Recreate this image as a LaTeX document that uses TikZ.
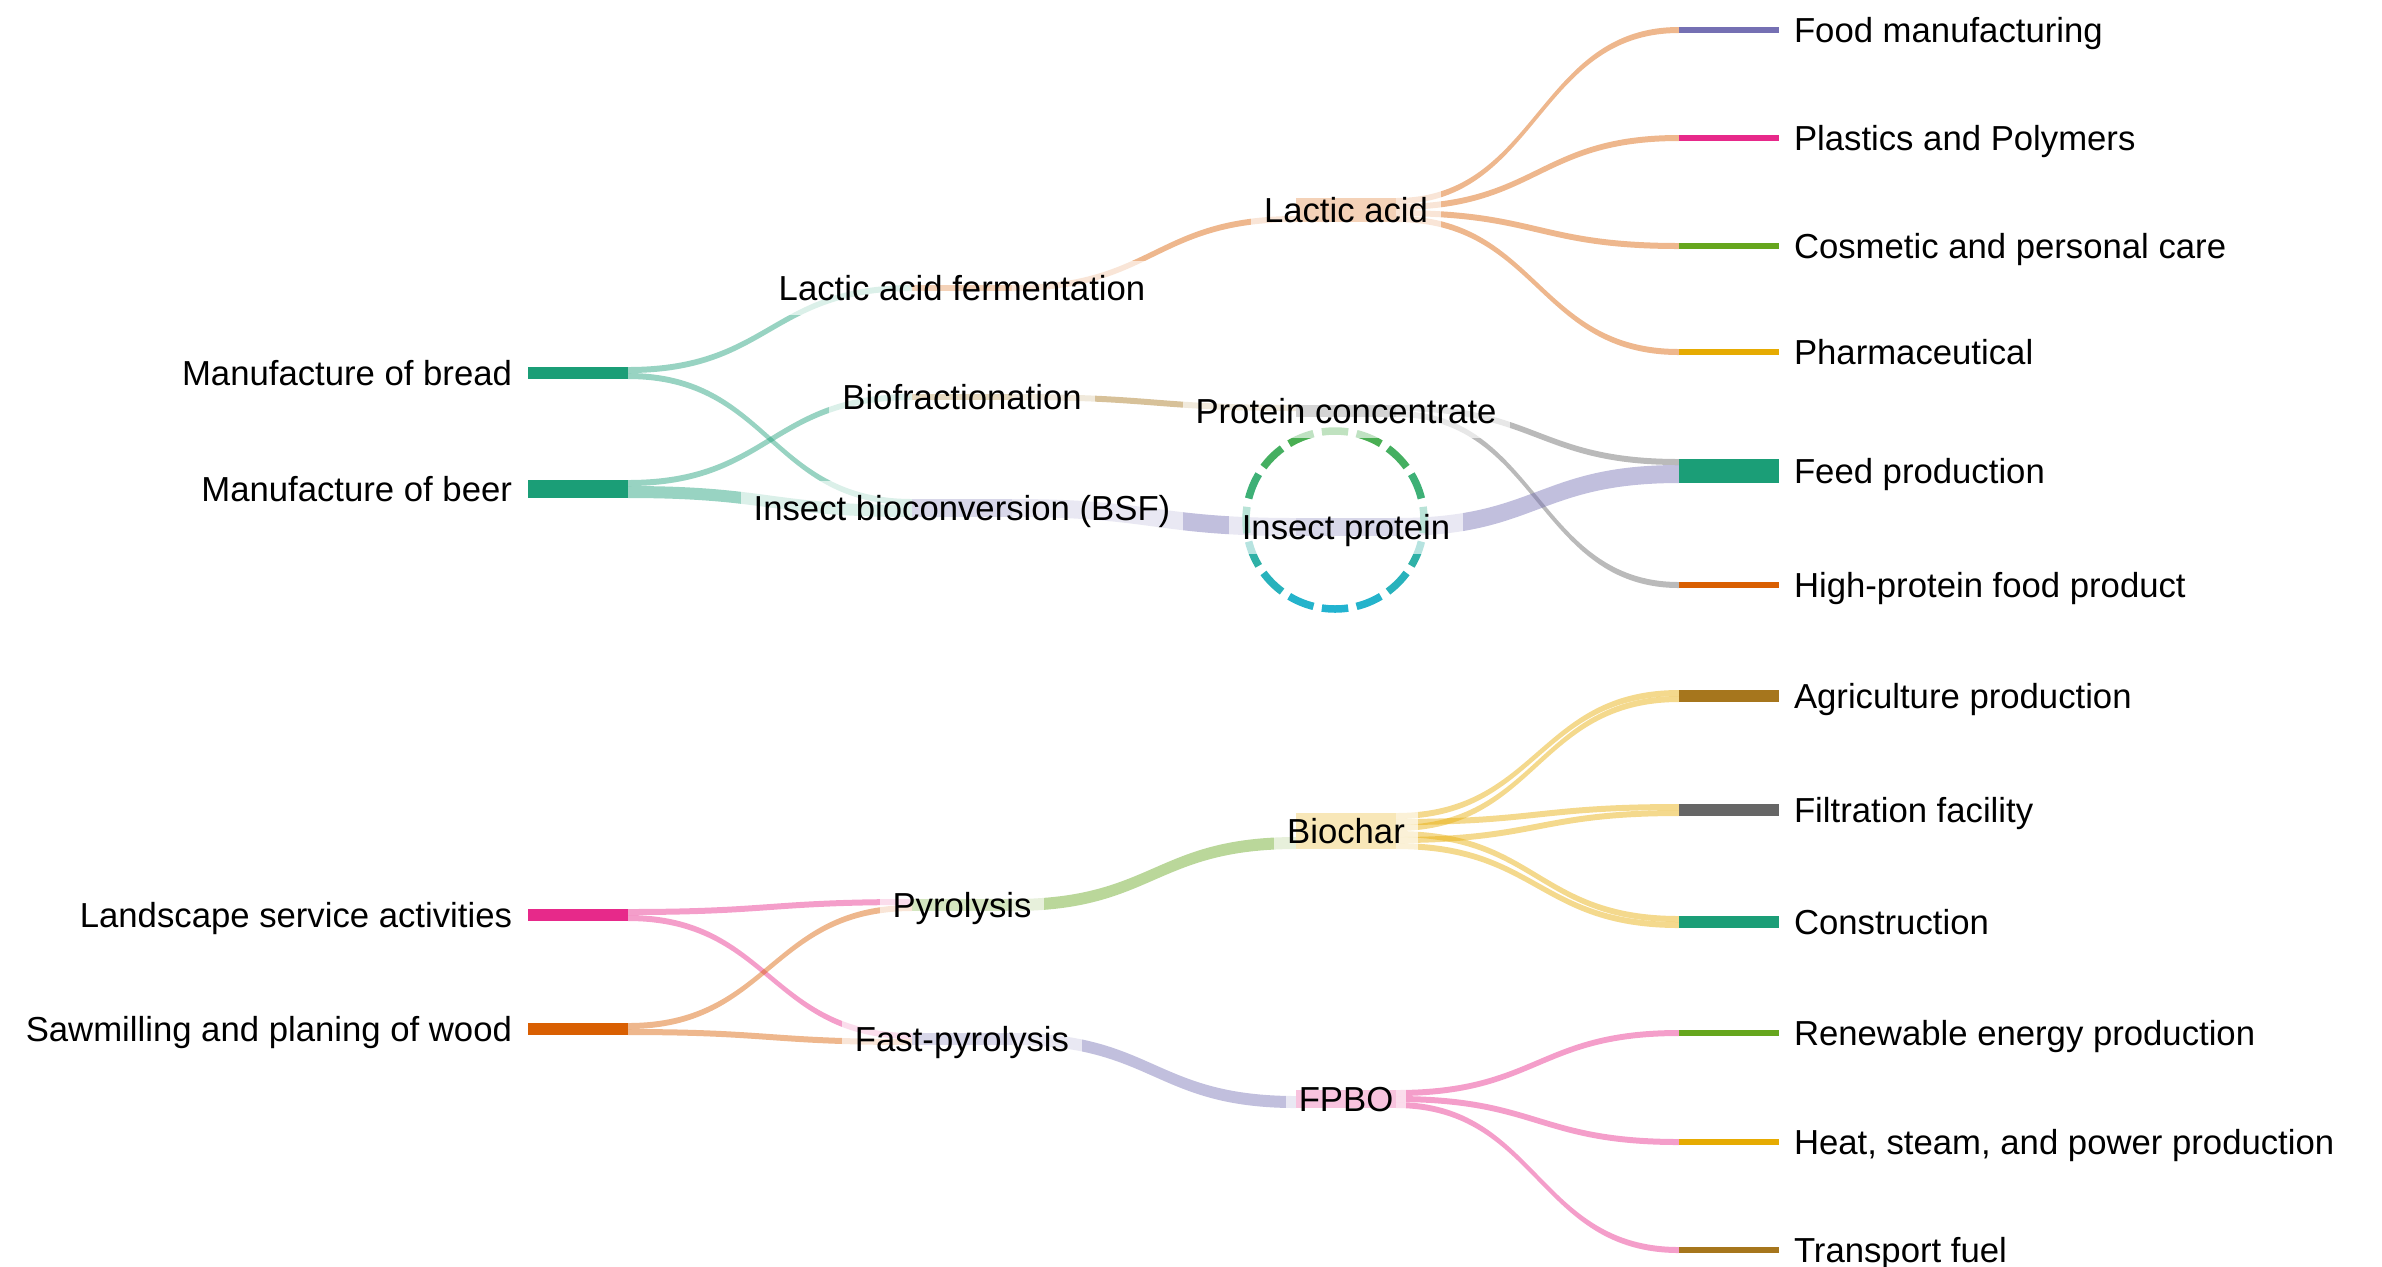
\documentclass[tikz,border=0pt]{standalone}
\usepackage{fontspec}
\setmainfont{Liberation Sans}
\usetikzlibrary{calc}
\definecolor{dteal}{HTML}{1B9E77}
\definecolor{dorange}{HTML}{D95F02}
\definecolor{dpurple}{HTML}{7570B3}
\definecolor{dpink}{HTML}{E7298A}
\definecolor{dgreen}{HTML}{66A61E}
\definecolor{dyellow}{HTML}{E6AB02}
\definecolor{dbrown}{HTML}{A6761D}
\definecolor{dgray}{HTML}{666666}
\definecolor{ringA}{HTML}{4BAE4D}
\definecolor{ringB}{HTML}{22B3D0}
\pgfdeclarelayer{links}
\pgfdeclarelayer{boxes}
\pgfsetlayers{links,boxes,main}
\def\pxu{0.284528pt}
% flow band: #1 source node, #2 source offset, #3 target node, #4 target offset, #5 width, #6 colour
\newcommand\band[6]{%
  \begin{pgfonlayer}{links}
  \fill[#6, fill opacity=0.45] let \p1=(#1.north east), \p2=(#3.north west) in
    (\x1,{\y1-#2*\pxu}) .. controls ({0.5*\x1+0.5*\x2},{\y1-#2*\pxu}) and ({0.5*\x1+0.5*\x2},{\y2-#4*\pxu}) .. (\x2,{\y2-#4*\pxu})
    -- (\x2,{\y2-(#4+#5)*\pxu}) .. controls ({0.5*\x1+0.5*\x2},{\y2-(#4+#5)*\pxu}) and ({0.5*\x1+0.5*\x2},{\y1-(#2+#5)*\pxu}) .. (\x1,{\y1-(#2+#5)*\pxu}) -- cycle;
  \end{pgfonlayer}}
\tikzset{
  bar/.style={rectangle, draw=none, inner sep=0pt, outer sep=0pt, minimum width=1cm},
  ht/.style={minimum height=#1*0.01cm},
  midbar/.style={bar, fill opacity=0.28},
  lab/.style={inner sep=0pt, outer sep=0pt, font=\fontsize{9.87}{12}\selectfont, text=black},
  midlab/.style={lab, inner xsep=0.13cm, anchor=base},
  leftlab/.style={lab, anchor=base east},
  rightlab/.style={lab, anchor=base west},
  whitebox/.style={fill=white, fill opacity=0.65},
}
% middle node: #1 name, #2 x, #3 y, #4 height, #5 colour, #6 text
\newcommand\midnode[6]{%
  \node[midbar, ht=#4, fill=#5] (#1) at (#2,#3) {};
  \node[midlab] (l-#1) at (#2,#3+12) {#6};
  \begin{pgfonlayer}{boxes}
  \fill[whitebox] ($(l-#1.west |- #1.center)+(0,-27)$) rectangle ($(l-#1.east |- #1.center)+(0,27)$);
  \end{pgfonlayer}}
% solid bar node: #1 name, #2 x, #3 y, #4 height, #5 colour
\newcommand\sinknode[5]{\node[bar, ht=#4, fill=#5] (#1) at (#2,#3) {};}
\begin{document}
\begin{tikzpicture}[x=0.01cm, y=-0.01cm]
\useasboundingbox (0,0) rectangle (2382,1266);

% sources
\sinknode{bread}{578}{373}{12}{dteal}
\sinknode{beer}{578}{489}{18}{dteal}
\sinknode{land}{578}{915}{12}{dpink}
\sinknode{saw}{578}{1029}{12}{dorange}
\node[leftlab] (l-bread) at (512,385) {Manufacture of bread};
\node[leftlab] (l-beer) at (512,501) {Manufacture of beer};
\node[leftlab] (l-land) at (512,927) {Landscape service activities};
\node[leftlab] (l-saw) at (512,1041) {Sawmilling and planing of wood};

% outputs
\sinknode{food}{1729}{30}{6}{dpurple}
\sinknode{plas}{1729}{138}{6}{dpink}
\sinknode{cosm}{1729}{246}{6}{dgreen}
\sinknode{phar}{1729}{352}{6}{dyellow}
\sinknode{feed}{1729}{471}{24}{dteal}
\sinknode{hpf}{1729}{585}{6}{dorange}
\sinknode{agri}{1729}{696}{12}{dbrown}
\sinknode{filt}{1729}{810}{12}{dgray}
\sinknode{cons}{1729}{922}{12}{dteal}
\sinknode{renew}{1729}{1033}{6}{dgreen}
\sinknode{heat}{1729}{1142}{6}{dyellow}
\sinknode{fuel}{1729}{1250}{6}{dbrown}
\node[rightlab] (l-food) at (1794,42) {Food manufacturing};
\node[rightlab] (l-plas) at (1794,150) {Plastics and Polymers};
\node[rightlab] (l-cosm) at (1794,258) {Cosmetic and personal care};
\node[rightlab] (l-phar) at (1794,364) {Pharmaceutical};
\node[rightlab] (l-feed) at (1794,483) {Feed production};
\node[rightlab] (l-hpf) at (1794,597) {High-protein food product};
\node[rightlab] (l-agri) at (1794,708) {Agriculture production};
\node[rightlab] (l-filt) at (1794,822) {Filtration facility};
\node[rightlab] (l-cons) at (1794,934) {Construction};
\node[rightlab] (l-renew) at (1794,1045) {Renewable energy production};
\node[rightlab] (l-heat) at (1794,1154) {Heat, steam, and power production};
\node[rightlab] (l-fuel) at (1794,1262) {Transport fuel};

% middle nodes
\midnode{laf}{962}{288}{6}{dorange}{Lactic acid fermentation}
\midnode{biof}{962}{397}{6}{dbrown}{Biofractionation}
\midnode{bsf}{962}{508}{18}{dpurple}{Insect bioconversion (BSF)}
\midnode{pyro}{962}{905}{12}{dgreen}{Pyrolysis}
\midnode{fpyr}{962}{1039}{12}{dpurple}{Fast-pyrolysis}
\midnode{la}{1346}{210}{24}{dorange}{Lactic acid}
\midnode{pc}{1346}{411}{12}{dgray}{Protein concentrate}
\midnode{ip}{1346}{527}{18}{dpurple}{Insect protein}
\midnode{bioc}{1346}{831}{36}{dyellow}{Biochar}
\midnode{fpbo}{1346}{1099}{18}{dpink}{FPBO}

% flows
\band{bread}{0}{laf}{0}{6}{dteal}
\band{bread}{6}{bsf}{0}{6}{dteal}
\band{beer}{0}{biof}{0}{6}{dteal}
\band{beer}{6}{bsf}{6}{12}{dteal}
\band{land}{0}{pyro}{0}{6}{dpink}
\band{land}{6}{fpyr}{0}{6}{dpink}
\band{saw}{0}{pyro}{6}{6}{dorange}
\band{saw}{6}{fpyr}{6}{6}{dorange}
\band{laf}{0}{la}{18}{6}{dorange}
\band{biof}{0}{pc}{0}{6}{dbrown}
\band{bsf}{0}{ip}{0}{18}{dpurple}
\band{pyro}{0}{bioc}{24}{12}{dgreen}
\band{fpyr}{0}{fpbo}{6}{12}{dpurple}
\band{la}{0}{food}{0}{6}{dorange}
\band{la}{6}{plas}{0}{6}{dorange}
\band{la}{12}{cosm}{0}{6}{dorange}
\band{la}{18}{phar}{0}{6}{dorange}
\band{pc}{0}{feed}{0}{6}{dgray}
\band{pc}{6}{hpf}{0}{6}{dgray}
\band{ip}{0}{feed}{6}{18}{dpurple}
\band{bioc}{0}{agri}{0}{6}{dyellow}
\band{bioc}{6}{filt}{0}{6}{dyellow}
\band{bioc}{12}{agri}{6}{6}{dyellow}
\band{bioc}{18}{cons}{0}{6}{dyellow}
\band{bioc}{24}{filt}{6}{6}{dyellow}
\band{bioc}{30}{cons}{6}{6}{dyellow}
\band{fpbo}{0}{renew}{0}{6}{dpink}
\band{fpbo}{6}{heat}{0}{6}{dpink}
\band{fpbo}{12}{fuel}{0}{6}{dpink}

% dashed gradient ring around Insect protein
\coordinate (ring) at (1335,520);
\begin{pgfonlayer}{links}
\foreach \k in {0,...,15}{
  \pgfmathsetmacro\ang{\k*22.5}
  \pgfmathtruncatemacro\pg{round(50-50*sin(\ang))}
  \draw[line width=0.075cm, color=ringA!\pg!ringB]
    ($(ring)+(\ang-8.5:89)$) arc[start angle=\ang-8.5, end angle=\ang+8.5, radius=89];
}
\end{pgfonlayer}
\end{tikzpicture}
\end{document}
